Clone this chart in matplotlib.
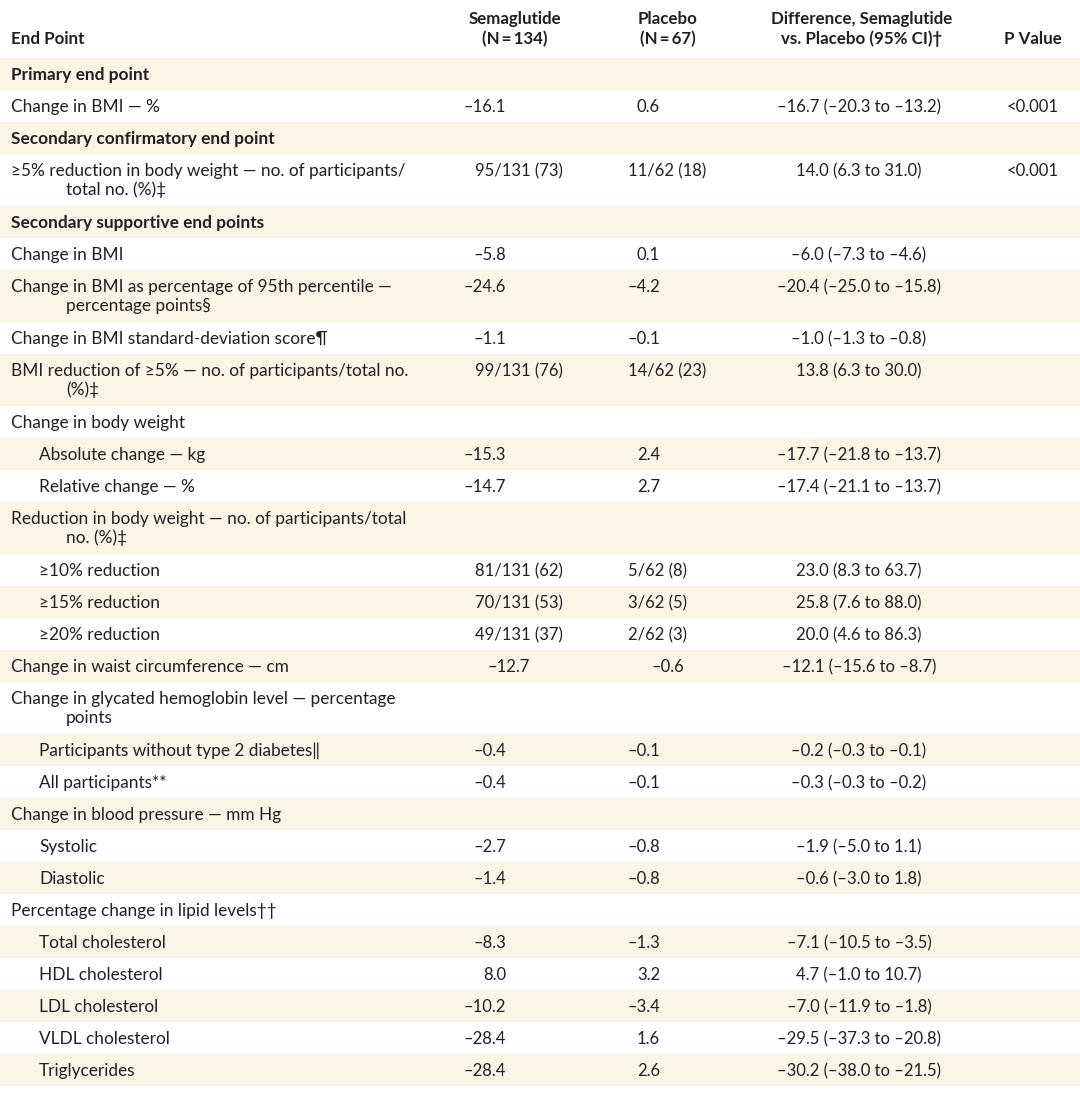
import matplotlib.pyplot as plt
from matplotlib.patches import Rectangle

plt.rcParams['font.family'] = ['Lato', 'DejaVu Sans']

# table content
labels = [
    "Primary end point",
    "Change in BMI — %",
    "Secondary confirmatory end point",
    "≥5% reduction in body weight — no. of participants/\ntotal no. (%)‡",
    "Secondary supportive end points",
    "Change in BMI",
    "Change in BMI as percentage of 95th percentile —\npercentage points§",
    "Change in BMI standard-deviation score¶",
    "BMI reduction of ≥5% — no. of participants/total no.\n(%)‡",
    "Change in body weight",
    "Absolute change — kg",
    "Relative change — %",
    "Reduction in body weight — no. of participants/total\nno. (%)‡",
    "≥10% reduction",
    "≥15% reduction",
    "≥20% reduction",
    "Change in waist circumference — cm",
    "Change in glycated hemoglobin level — percentage\npoints",
    "Participants without type 2 diabetes‖",
    "All participants**",
    "Change in blood pressure — mm Hg",
    "Systolic",
    "Diastolic",
    "Percentage change in lipid levels††",
    "Total cholesterol",
    "HDL cholesterol",
    "LDL cholesterol",
    "VLDL cholesterol",
    "Triglycerides",
]
indent = [0, 0, 0, 0, 0, 0, 0, 0, 0, 0, 1, 1, 0, 1, 1, 1, 0, 0, 1, 1, 0, 1, 1, 0, 1, 1, 1, 1, 1]
bold = [True, False, True, False, True] + [False] * 24

semaglutide = ["", "–16.1", "", "95/131 (73)", "", "–5.8", "–24.6", "–1.1", "99/131 (76)", "",
               "–15.3", "–14.7", "", "81/131 (62)", "70/131 (53)", "49/131 (37)", "–12.7", "",
               "–0.4", "–0.4", "", "–2.7", "–1.4", "", "–8.3", "8.0", "–10.2", "–28.4", "–28.4"]
placebo = ["", "0.6", "", "11/62 (18)", "", "0.1", "–4.2", "–0.1", "14/62 (23)", "",
           "2.4", "2.7", "", "5/62 (8)", "3/62 (5)", "2/62 (3)", "–0.6", "",
           "–0.1", "–0.1", "", "–0.8", "–0.8", "", "–1.3", "3.2", "–3.4", "1.6", "2.6"]
difference = ["", "–16.7 (–20.3 to –13.2)", "", "14.0 (6.3 to 31.0)", "", "–6.0 (–7.3 to –4.6)",
              "–20.4 (–25.0 to –15.8)", "–1.0 (–1.3 to –0.8)", "13.8 (6.3 to 30.0)", "",
              "–17.7 (–21.8 to –13.7)", "–17.4 (–21.1 to –13.7)", "", "23.0 (8.3 to 63.7)",
              "25.8 (7.6 to 88.0)", "20.0 (4.6 to 86.3)", "–12.1 (–15.6 to –8.7)", "",
              "–0.2 (–0.3 to –0.1)", "–0.3 (–0.3 to –0.2)", "", "–1.9 (–5.0 to 1.1)",
              "–0.6 (–3.0 to 1.8)", "", "–7.1 (–10.5 to –3.5)", "4.7 (–1.0 to 10.7)",
              "–7.0 (–11.9 to –1.8)", "–29.5 (–37.3 to –20.8)", "–30.2 (–38.0 to –21.5)"]
p_value = ["", "<0.001", "", "<0.001"] + [""] * 25

headers = ["End Point", "Semaglutide\n(N\u2009=\u2009134)", "Placebo\n(N\u2009=\u200967)",
           "Difference, Semaglutide\nvs. Placebo (95% CI)†", "P Value"]

# layout (pixels)
W, H = 1080, 1093
text_color = "#231f20"
shade = "#fcf5e5"
fs_lab = 12.4
fs_num = 12.0
header_h = 58
single_h, double_h = 32, 52
x_label = [11, 39]
x_wrap = 66
x_sema_num, x_sema_frac = 506, 475
x_plac_num, x_plac_frac = 660, 628
x_diff = 859
x_p = 1033
x_head = [11, 515, 668, 862, 1033]
row_shift = {16: 24}  # waist circumference row sits a bit to the right

fig = plt.figure(figsize=(W / 100, H / 100), dpi=100)
ax = fig.add_axes([0, 0, 1, 1])
ax.set_xlim(0, W)
ax.set_ylim(H, 0)
ax.axis("off")

# header
for i, h in enumerate(headers):
    lines = h.split("\n")
    ha = "left" if i == 0 else "center"
    ys = [39] if len(lines) == 1 else [19, 39]
    for ln, y in zip(lines, ys):
        ax.text(x_head[i], y, ln, ha=ha, va="center", fontsize=fs_lab - 0.2, fontweight="bold",
                color=text_color)

top = header_h
for i, lab in enumerate(labels):
    lines = lab.split("\n")
    h = single_h if len(lines) == 1 else double_h
    if i % 2 == 0:
        ax.add_patch(Rectangle((0, top), W, h, facecolor=shade, edgecolor="none", zorder=0))
    y1 = top + 17
    ax.text(x_label[indent[i]], y1, lines[0], ha="left", va="center", fontsize=fs_lab,
            fontweight="bold" if bold[i] else "normal", color=text_color)
    if len(lines) > 1:
        ax.text(x_wrap, y1 + 19, lines[1], ha="left", va="center", fontsize=fs_lab,
                color=text_color)
    dx = row_shift.get(i, 0)
    s = semaglutide[i]
    if s:
        if "/" in s:
            ax.text(x_sema_frac, y1, s, ha="left", va="center", fontsize=fs_num, color=text_color)
        else:
            ax.text(x_sema_num + dx, y1, s, ha="right", va="center", fontsize=fs_num,
                    color=text_color)
    p = placebo[i]
    if p:
        if "/" in p:
            ax.text(x_plac_frac, y1, p, ha="left", va="center", fontsize=fs_num, color=text_color)
        else:
            ax.text(x_plac_num + dx, y1, p, ha="right", va="center", fontsize=fs_num,
                    color=text_color)
    if difference[i]:
        ax.text(x_diff, y1, difference[i], ha="center", va="center", fontsize=fs_num,
                color=text_color)
    if p_value[i]:
        ax.text(x_p, y1, p_value[i], ha="center", va="center", fontsize=fs_num, color=text_color)
    top += h

fig.savefig("out.png", dpi=100, facecolor="white")
